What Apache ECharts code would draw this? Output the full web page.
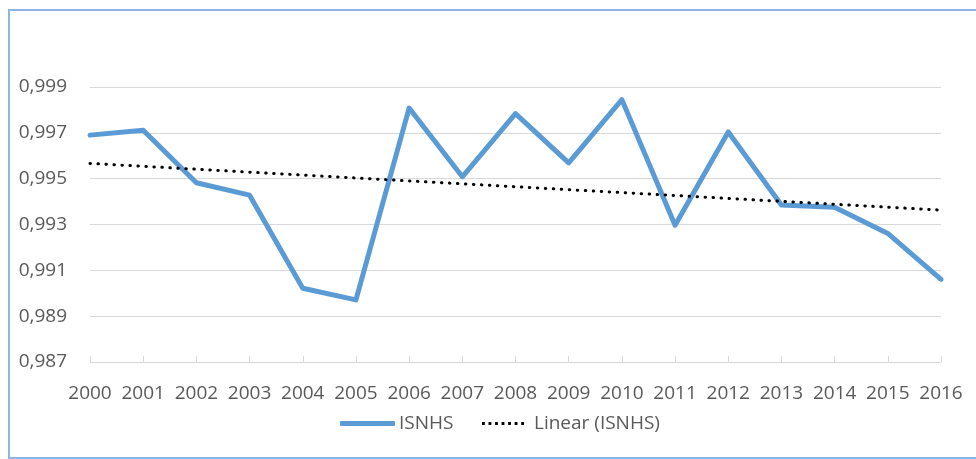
<!DOCTYPE html>
<html>
<head>
<meta charset="utf-8">
<script src="https://cdn.jsdelivr.net/npm/echarts@6/dist/echarts.min.js"></script>
<style>
html,body{margin:0;padding:0;background:#fff;overflow:hidden;width:976px;height:459px;}
#main{width:976px;height:459px;position:absolute;left:0;top:0;}
#frame{position:absolute;left:8px;top:9px;width:966px;height:446px;border:2px solid #8DB4E2;border-right:none;pointer-events:none;}
</style>
</head>
<body>
<div id="main"></div>
<div id="frame"></div>
<script>
var years = ['2000','2001','2002','2003','2004','2005','2006','2007','2008','2009','2010','2011','2012','2013','2014','2015','2016'];
var isnhs = [0.99690,0.99711,0.99482,0.99428,0.99022,0.98971,0.99808,0.99508,0.99784,0.99569,0.99845,0.99297,0.99704,0.99385,0.99375,0.99261,0.99061];
var yTicks = {min:0.987, max:0.999, step:0.002};

// linear trend (least squares), like the Excel trendline
function linearTrend(v){
	var n=v.length, sx=0, sy=0, sxy=0, sxx=0;
	for(var i=0;i<n;i++){ sx+=i; sy+=v[i]; sxy+=i*v[i]; sxx+=i*i; }
	var b=(n*sxy-sx*sy)/(n*sxx-sx*sx);
	var a=(sy-b*sx)/n;
	var out=[];
	for(var i=0;i<n;i++){ out.push(a+b*i); }
	return out;
}
var trend = linearTrend(isnhs);

var font = '"Open Sans", sans-serif';
var dotIcon = 'path://M0,0h3v3h-3z M7,0h3v3h-3z M14,0h3v3h-3z M21,0h3v3h-3z M28,0h3v3h-3z M35,0h3v3h-3z M42,0h3v3h-3z';

var myChart = echarts.init(document.getElementById('main'));
var option = {
	animation:false,
	grid:{left:90,right:35,top:87,bottom:97},
	legend:[{
		left:335, top:409,
		itemWidth:55, itemHeight:5,
		data:[{name:'ISNHS',icon:'roundRect',itemStyle:{color:'#5B9BD5'}}],
		textStyle:{fontFamily:font,fontSize:19,color:'#595959',padding:[0,0,0,-1]}
	},{
		left:477, top:409,
		itemWidth:42, itemHeight:3,
		data:[{name:'Linear (ISNHS)',icon:dotIcon,itemStyle:{color:'#000'}}],
		textStyle:{fontFamily:font,fontSize:19,color:'#595959',padding:[0,0,0,5]}
	}],
	xAxis:{
		type:'category',
		boundaryGap:false,
		data:years,
		axisLine:{lineStyle:{color:'#D9D9D9',width:1}},
		axisTick:{show:true,inside:true,length:6,lineStyle:{color:'#D9D9D9'}},
		axisLabel:{fontFamily:font,fontSize:19,color:'#595959',margin:22,interval:0}
	},
	yAxis:{
		type:'value',
		min:yTicks.min, max:yTicks.max, interval:yTicks.step,
		axisLine:{show:false},
		axisTick:{show:false},
		splitLine:{lineStyle:{color:'#D9D9D9',width:1}},
		axisLabel:{fontFamily:font,fontSize:19,color:'#595959',margin:23,
			formatter:function(v){ return v.toFixed(3).replace('.',','); }}
	},
	series:[{
		name:'ISNHS',
		type:'line',
		data:isnhs,
		symbol:'none',
		lineStyle:{color:'#5B9BD5',width:5,cap:'round',join:'round'},
		itemStyle:{color:'#5B9BD5'}
	},{
		name:'Linear (ISNHS)',
		type:'line',
		data:trend,
		symbol:'none',
		z:3,
		lineStyle:{color:'#000',width:3,type:[0.5,7.5],cap:'round'},
		itemStyle:{color:'#000'}
	}]
};
myChart.setOption(option);
</script>
</body>
</html>
